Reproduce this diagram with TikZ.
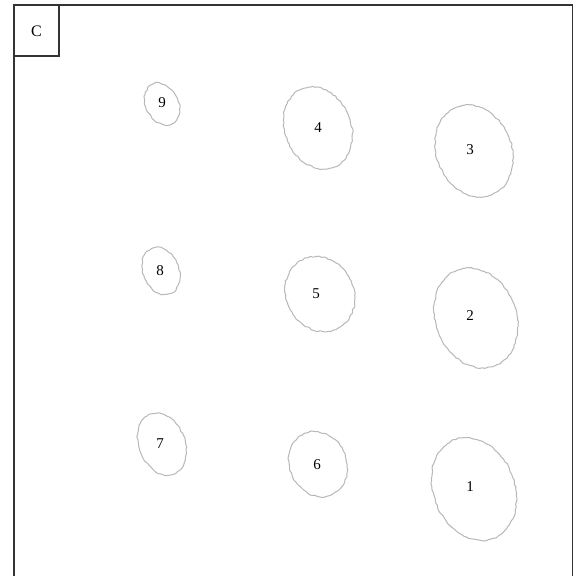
\documentclass[tikz,border=0pt]{standalone}
\usepackage{fontspec}
\setmainfont{Liberation Serif}
\usetikzlibrary{decorations.pathmorphing}
\pgfmathsetseed{7}
\tikzset{
  blob/.style={draw=black!28, line width=1pt, line join=round, rounded corners=0.8pt,
    decorate, decoration={random steps, segment length=2.2pt, amplitude=0.8pt}},
  lbl/.style={inner sep=0pt, font=\fontsize{15}{15}\selectfont},
  frame/.style={draw=black!80, line width=1.1pt}
}
\begin{document}
\begin{tikzpicture}[x=1pt,y=-1pt]
\useasboundingbox (0,0) rectangle (574,576);
\fill[white] (0,0) rectangle (574,576);
\begin{scope}
\clip (0,0) rectangle (574,576);
\draw[frame] (14,590) -- (14,5) -- (572.5,5) -- (572.5,590);
\end{scope}
\draw[frame] (14,56) -- (59,56) -- (59,5);
\node[lbl, font=\fontsize{16}{16}\selectfont] (C) at (36.5,31) {C};
% blobs
\draw[blob] (162,104) ellipse [x radius=16.2, y radius=22, rotate=28];
\draw[blob] (318,128) ellipse [x radius=33.1, y radius=42.2, rotate=22];
\draw[blob] (474,151) ellipse [x radius=37.5, y radius=47.2, rotate=22];
\draw[blob] (161,271) ellipse [x radius=18, y radius=24.3, rotate=22];
\draw[blob] (320,294) ellipse [x radius=33.7, y radius=38.7, rotate=30];
\draw[blob] (476,318) ellipse [x radius=40.3, y radius=51.4, rotate=22];
\draw[blob] (162,444) ellipse [x radius=23, y radius=32.1, rotate=22];
\draw[blob] (318,464) ellipse [x radius=28.5, y radius=33.5, rotate=25];
\draw[blob] (474,489) ellipse [x radius=40.5, y radius=53, rotate=22];
% labels
\node[lbl] (n9) at (162,103) {9};
\node[lbl] (n4) at (318,128) {4};
\node[lbl] (n3) at (470,150) {3};
\node[lbl] (n8) at (160,271) {8};
\node[lbl] (n5) at (316,294) {5};
\node[lbl] (n2) at (470,316) {2};
\node[lbl] (n7) at (160,444) {7};
\node[lbl] (n6) at (317,465) {6};
\node[lbl] (n1) at (470,487) {1};
\end{tikzpicture}
\end{document}
